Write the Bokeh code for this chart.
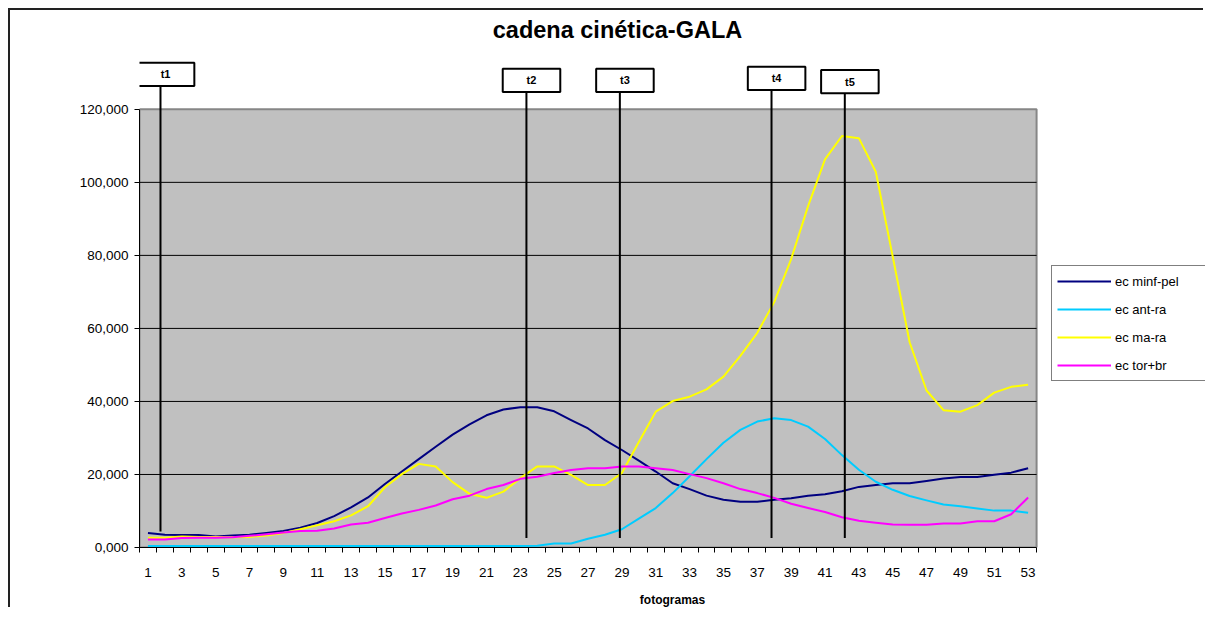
from bokeh.plotting import figure
from bokeh.models import Range1d, FixedTicker, Legend, LegendItem, Label
from bokeh.embed import file_html
from bokeh.resources import INLINE
from bokeh.core.properties import value

FONT = "Liberation Sans"

# ---------------- data ----------------
frames = list(range(1, 54))

ec_minf_pel = [4000, 3500, 3400, 3400, 3000, 3300, 3500, 4000, 4500, 5400,
               6700, 8600, 11000, 13700, 17400, 20800, 24200, 27600, 30900, 33700,
               36200, 37800, 38400, 38400, 37300, 34900, 32600, 29400, 26700, 23800,
               20800, 17600, 16000, 14200, 13100, 12500, 12500, 13100, 13500, 14200,
               14600, 15400, 16600, 17100, 17600, 17600, 18200, 18900, 19300, 19300,
               19900, 20500, 21700]

ec_ant_ra = [400, 400, 400, 400, 400, 400, 400, 400, 400, 400,
             400, 400, 400, 400, 400, 400, 400, 400, 400, 400,
             400, 400, 400, 500, 1100, 1100, 2400, 3500, 5000, 7900,
             10800, 14900, 19500, 24200, 28700, 32200, 34500, 35400, 34900, 33100,
             29700, 25300, 21300, 18000, 15800, 14100, 12900, 11800, 11300, 10700,
             10100, 10100, 9500]

ec_ma_ra = [2700, 2700, 3000, 2900, 2900, 2800, 2900, 3300, 4000, 5000,
            6100, 7200, 8800, 11300, 16500, 20100, 22900, 22200, 17900, 14700,
            13600, 15300, 19000, 22200, 22200, 19900, 17100, 17100, 20400, 28900,
            37200, 40100, 41300, 43300, 46800, 52500, 58800, 67200, 79000, 93500,
            106300, 112700, 112100, 102900, 79700, 56200, 43000, 37600, 37200, 39000,
            42400, 44000, 44600]

ec_tor_br = [2200, 2200, 2600, 2700, 2700, 2800, 3200, 3600, 4100, 4500,
             4600, 5200, 6300, 6800, 8100, 9300, 10300, 11500, 13200, 14200,
             16000, 17100, 18800, 19400, 20400, 21200, 21700, 21700, 22200, 22200,
             21700, 21200, 20100, 19000, 17600, 16000, 14900, 13600, 12000, 10800,
             9700, 8300, 7300, 6800, 6300, 6200, 6200, 6600, 6600, 7200,
             7200, 9100, 13700]

series_names = ["ec minf-pel", "ec ant-ra", "ec ma-ra", "ec tor+br"]
series_values = [ec_minf_pel, ec_ant_ra, ec_ma_ra, ec_tor_br]
series_colors = ["#000080", "#00CCFF", "#FFFF00", "#FF00FF"]

y_ticks = [0, 20000, 40000, 60000, 80000, 100000, 120000]
y_tick_labels = ["0,000", "20,000", "40,000", "60,000", "80,000", "100,000", "120,000"]
x_tick_frames = frames[::2]

marker_labels = ["t1", "t2", "t3", "t4", "t5"]
marker_frames = [1.74, 23.36, 28.88, 37.84, 42.17]
marker_line_bottom = [4400, 2600, 2600, 2600, 2600]
marker_box_bottom = [126370, 124730, 124730, 125280, 124370]
marker_box_top = [132770, 131130, 131130, 131670, 130740]

title_text = "cadena cinética-GALA"
x_label = "fotogramas"

# ---------------- figure ----------------
x_lo = frames[0] - 0.5
x_hi = frames[-1] + 0.5

p = figure(width=1195, height=599,
           x_range=Range1d(x_lo, 63.48), y_range=Range1d(0, 147062),
           output_backend="svg", toolbar_location=None,
           min_border_left=129, min_border_right=0,
           min_border_top=0, min_border_bottom=61)
p.styles = {"margin-left": "8px", "margin-top": "8px",
            "border-top": "2px solid #222222", "border-left": "2px solid #222222"}
p.outline_line_color = None
p.background_fill_color = "white"
p.border_fill_color = "white"
p.xgrid.visible = False
p.ygrid.visible = False

# plot area
p.quad(left=[x_lo], right=[x_hi], bottom=[y_ticks[0]], top=[y_ticks[-1]],
       fill_color="#C0C0C0", line_color="#868686", line_width=2)
p.segment(x0=[x_lo] * (len(y_ticks) - 2), y0=y_ticks[1:-1],
          x1=[x_hi] * (len(y_ticks) - 2), y1=y_ticks[1:-1],
          line_color="black", line_width=1)

renderers = []
for name, vals, col in zip(series_names, series_values, series_colors):
    r = p.line(frames, vals, line_color=col, line_width=2, line_join="round")
    renderers.append(r)

# marker lines and boxes
half_w = 1.70
box_shift = 0.3
p.segment(x0=marker_frames, y0=marker_line_bottom, x1=marker_frames, y1=marker_box_bottom,
          line_color="black", line_width=2)
p.quad(left=[f + box_shift - half_w for f in marker_frames],
       right=[f + box_shift + half_w for f in marker_frames],
       bottom=marker_box_bottom, top=marker_box_top,
       fill_color="white", line_color="black", line_width=2)
p.text(x=[f + box_shift for f in marker_frames],
       y=[(b + t) / 2 for b, t in zip(marker_box_bottom, marker_box_top)],
       text=marker_labels, text_align="center", text_baseline="middle",
       text_font=value(FONT), text_font_style="bold", text_font_size="11px",
       text_color="black")

# title
p.add_layout(Label(x=28.74, y=141600, text=title_text, text_align="center",
                   text_baseline="middle", text_font=FONT, text_font_style="bold",
                   text_font_size="23.5px", text_color="black"))

# axes
xa = p.xaxis[0]
xa.bounds = (x_lo, x_hi)
xa.ticker = FixedTicker(ticks=x_tick_frames,
                        minor_ticks=[f - 0.5 for f in frames] + [x_hi])
xa.major_tick_out = 0
xa.major_tick_in = 0
xa.minor_tick_out = 5
xa.minor_tick_in = 0
xa.minor_tick_line_color = "black"
xa.axis_line_color = "black"
xa.major_label_standoff = 15
xa.major_label_text_font = FONT
xa.major_label_text_font_size = "13.5px"
xa.major_label_text_color = "black"
xa.axis_label = x_label
xa.axis_label_text_font = FONT
xa.axis_label_text_font_style = "bold"
xa.axis_label_text_font_size = "12px"
xa.axis_label_text_color = "black"
xa.axis_label_standoff = 13

ya = p.yaxis[0]
ya.bounds = (y_ticks[0], y_ticks[-1])
ya.ticker = FixedTicker(ticks=y_ticks)
ya.major_label_overrides = {t: s for t, s in zip(y_ticks, y_tick_labels)}
ya.major_tick_out = 5
ya.major_tick_in = 0
ya.minor_tick_out = 0
ya.minor_tick_in = 0
ya.major_tick_line_color = "black"
ya.axis_line_color = "black"
ya.major_label_standoff = 6
ya.major_label_text_font = FONT
ya.major_label_text_font_size = "13.5px"
ya.major_label_text_color = "black"

# legend
legend = Legend(items=[LegendItem(label=n, renderers=[r]) for n, r in zip(series_names, renderers)],
                location=(912, 166), padding=5, spacing=8, glyph_height=20, glyph_width=54,
                label_standoff=4, label_width=87, margin=0,
                label_text_font=FONT, label_text_font_size="13px", label_text_color="black",
                border_line_color="black", border_line_width=1,
                background_fill_color="white", background_fill_alpha=1.0)
p.add_layout(legend)

open("out.html", "w").write(file_html(p, INLINE))
